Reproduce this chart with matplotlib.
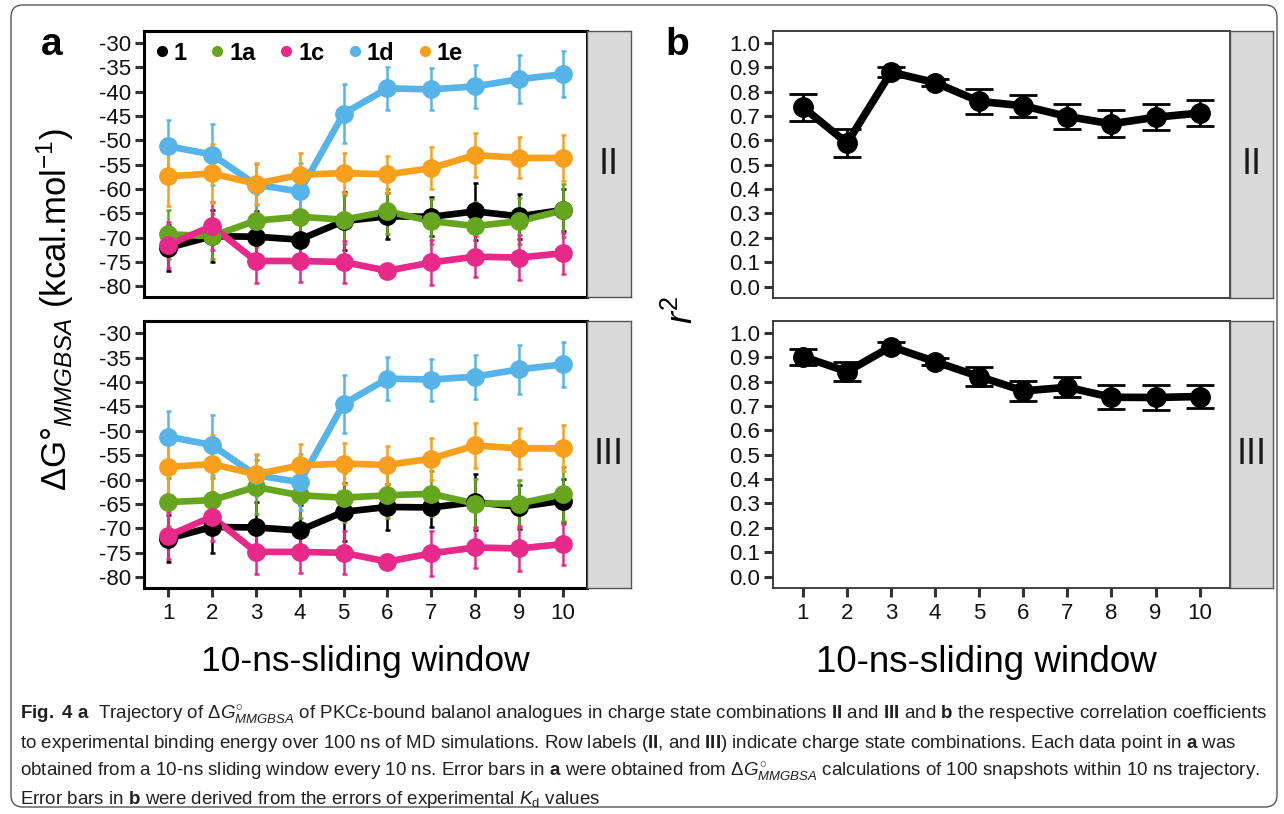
import matplotlib
matplotlib.use("Agg")
import matplotlib.pyplot as plt
from matplotlib.lines import Line2D
from matplotlib.patches import FancyBboxPatch
from matplotlib import font_manager
import numpy as np

plt.rcParams['font.family'] = ['Liberation Sans', 'DejaVu Sans']
plt.rcParams['mathtext.fontset'] = 'custom'
plt.rcParams['mathtext.rm'] = 'Liberation Sans'
plt.rcParams['mathtext.it'] = 'Liberation Sans:italic'
plt.rcParams['mathtext.bf'] = 'Liberation Sans:bold'
plt.rcParams['axes.unicode_minus'] = False

# ---- data ----
windows = np.arange(1, 11)
compounds = ['1', '1a', '1c', '1d', '1e']
colors = ['#000000', '#66A61E', '#E7298A', '#56B4E9', '#F8A01C']
rows = ['II', 'III']

# panel a: dG MMGBSA (kcal/mol), same for both rows except 1a
dg_1 = [-72.1, -69.7, -69.8, -70.4, -66.6, -65.6, -65.7, -64.6, -65.6, -64.3]
err_1 = [4.8, 5.4, 5.2, 5.2, 5.9, 4.7, 4.0, 5.8, 4.6, 4.4]
dg_1a_II = [-69.3, -69.7, -66.5, -65.7, -66.3, -64.6, -66.6, -67.6, -66.6, -64.4]
dg_1a_III = [-64.6, -64.2, -61.5, -63.2, -63.7, -63.2, -62.9, -64.9, -64.9, -63.0]
err_1a = [5.0, 4.6, 5.5, 4.7, 5.0, 4.7, 4.6, 5.0, 4.8, 5.5]
dg_1c = [-71.5, -67.6, -74.8, -74.8, -75.0, -76.8, -75.1, -73.9, -74.1, -73.2]
err_1c = [4.8, 5.0, 4.5, 4.3, 4.4, 0.8, 4.6, 4.2, 4.6, 4.2]
dg_1d = [-51.2, -52.9, -59.1, -60.5, -44.5, -39.3, -39.5, -38.9, -37.4, -36.4]
err_1d = [5.3, 6.2, 4.2, 5.8, 6.0, 4.4, 4.3, 4.5, 5.0, 4.7]
dg_1e = [-57.4, -56.8, -58.9, -57.1, -56.7, -57.0, -55.7, -53.0, -53.6, -53.6]
err_1e = [6.0, 6.0, 4.2, 4.5, 4.2, 3.8, 4.3, 4.6, 4.2, 4.7]

# panel b: r^2
r2_II = [0.736, 0.589, 0.880, 0.837, 0.760, 0.742, 0.698, 0.668, 0.695, 0.712]
r2err_II = [0.055, 0.058, 0.020, 0.013, 0.050, 0.045, 0.052, 0.056, 0.054, 0.052]
r2_III = [0.903, 0.841, 0.944, 0.882, 0.821, 0.762, 0.777, 0.736, 0.735, 0.739]
r2err_III = [0.033, 0.039, 0.020, 0.014, 0.040, 0.040, 0.042, 0.050, 0.051, 0.049]

a_yticks = np.arange(-80, -25, 5)
b_yticks = np.round(np.arange(0, 1.01, 0.1), 1)

series_II = [(dg_1, err_1), (dg_1a_II, err_1a), (dg_1c, err_1c), (dg_1d, err_1d), (dg_1e, err_1e)]
series_III = [(dg_1, err_1), (dg_1a_III, err_1a), (dg_1c, err_1c), (dg_1d, err_1d), (dg_1e, err_1e)]

W, H = 1284, 814
fig = plt.figure(figsize=(W / 100, H / 100), dpi=100)


def box(x0, y0, x1, y1):
    return [x0 / W, 1 - y1 / H, (x1 - x0) / W, (y1 - y0) / H]


def strip(x0, y0, x1, y1, label):
    s = fig.add_axes(box(x0, y0, x1, y1))
    s.set_facecolor('#D9D9D9')
    s.set_xticks([])
    s.set_yticks([])
    for sp in s.spines.values():
        sp.set_color('#555555')
        sp.set_linewidth(1.0)
    s.text(0.5, 0.5, label, ha='center', va='center', fontsize=26, color='#1a1a1a',
           transform=s.transAxes)


def style(ax, lw, col, bottom):
    for sp in ax.spines.values():
        sp.set_linewidth(lw)
        sp.set_color(col)
    ax.tick_params(axis='both', length=6.5, width=2.2, color='#333333',
                   labelsize=16, labelcolor='#111111', pad=3)
    ax.tick_params(axis='x', pad=4)
    ax.set_xticks(windows)
    if not bottom:
        ax.tick_params(axis='x', bottom=False, labelbottom=False)


# ---- panel a ----
a_rows = [(31, 297), (321, 588)]
for r, (y0, y1) in enumerate(a_rows):
    ax = fig.add_axes(box(144, y0, 587, y1))
    data = series_II if r == 0 else series_III
    for (vals, errs), c in zip(data, colors):
        ax.errorbar(windows, vals, yerr=errs, fmt='none', ecolor=c, elinewidth=1.8,
                    capsize=1.8, capthick=1.8, zorder=2)
    for (vals, errs), c in zip(data, colors):
        ax.plot(windows, vals, color=c, lw=4.8, zorder=3, solid_capstyle='round')
    for (vals, errs), c in zip(data, colors):
        ax.plot(windows, vals, 'o', color=c, ms=12.5, zorder=4)
    ax.set_xlim(0.45, 10.55)
    ax.set_ylim(-82.2, -27.5)
    ax.set_yticks(a_yticks)
    style(ax, 2.2, '#000000', r == 1)
    if r == 0:
        handles = [Line2D([], [], marker='o', ls='none', color=c, ms=7) for c in colors]
        ax.legend(handles, compounds, loc='upper left', bbox_to_anchor=(0.0, 1.0), ncol=5,
                  frameon=False, handlelength=0.6, handletextpad=0.2, columnspacing=1.0,
                  borderaxespad=0.25, borderpad=0.2, prop=dict(weight='bold', size=17))
    strip(587, y0, 631, y1, rows[r])

# ---- panel b ----
b_rows = [(31, 298), (321, 588)]
b_data = [(r2_II, r2err_II), (r2_III, r2err_III)]
for r, (y0, y1) in enumerate(b_rows):
    ax = fig.add_axes(box(773, y0, 1230, y1))
    vals, errs = b_data[r]
    ax.errorbar(windows, vals, yerr=errs, fmt='none', ecolor='black', elinewidth=2,
                capsize=10, capthick=2, zorder=2)
    ax.plot(windows, vals, color='black', lw=5.5, zorder=3)
    ax.plot(windows, vals, 'o', color='black', ms=14, zorder=4)
    ax.set_xlim(0.32, 10.69)
    ax.set_ylim(-0.047, 1.049)
    ax.set_yticks(b_yticks)
    ax.set_yticklabels(['%.1f' % v for v in b_yticks])
    style(ax, 1.3, '#333333', r == 1)
    strip(1230, y0, 1273, y1, rows[r])

# ---- labels ----
fig.text(52 / W, 1 - 45 / H, 'a', fontsize=28, weight='bold', ha='center', va='center')
fig.text(677 / W, 1 - 45 / H, 'b', fontsize=28, weight='bold', ha='center', va='center')
fig.text(55 / W, 1 - 310 / H, r'$\Delta\mathrm{G°}_{\mathit{MMGBSA}}$ (kcal.mol$^{-1}$)',
         rotation=90, fontsize=25, ha='center', va='center')
fig.text(683 / W, 1 - 310 / H, r'$\mathit{r}^{2}$', rotation=90, fontsize=26,
         ha='center', va='center')
fig.text(365 / W, 1 - 662 / H, '10-ns-sliding window', fontsize=25.5, ha='center', va='center')
fig.text(986 / W, 1 - 662 / H, '10-ns-sliding window', fontsize=26.5, ha='center', va='center')

# ---- caption ----
names = {f.name for f in font_manager.fontManager.ttflist}
cap_font = 'Liberation Sans Narrow' if 'Liberation Sans Narrow' in names else 'Liberation Sans'
cap_lines = [
    r'$\mathbf{Fig.\ 4\ a}$  Trajectory of $\mathit{\Delta G^{\circ}_{MMGBSA}}$ of PKCε-bound balanol '
    r'analogues in charge state combinations $\mathbf{II}$ and $\mathbf{III}$ and $\mathbf{b}$ the '
    r'respective correlation coefficients',
    r'to experimental binding energy over 100 ns of MD simulations. Row labels ($\mathbf{II}$, and '
    r'$\mathbf{III}$) indicate charge state combinations. Each data point in $\mathbf{a}$ was',
    r'obtained from a 10-ns sliding window every 10 ns. Error bars in $\mathbf{a}$ were obtained '
    r'from $\mathit{\Delta G^{\circ}_{MMGBSA}}$ calculations of 100 snapshots within 10 ns trajectory.',
    r'Error bars in $\mathbf{b}$ were derived from the errors of experimental $\mathit{K}_{\mathrm{d}}$ values',
]
cap_y = [715, 744, 772, 799]
texts = [fig.text(20 / W, 1 - y / H, s, fontsize=12, family=cap_font, va='center',
                  color='#231f20') for s, y in zip(cap_lines, cap_y)]
renderer = fig.canvas.get_renderer()
w0 = texts[0].get_window_extent(renderer).width
fs = 12 * 1248 / w0
for t in texts:
    t.set_fontsize(fs)

frame = FancyBboxPatch((0.11, 0.07), 12.66, 8.02, boxstyle='round,pad=0,rounding_size=0.12',
                       transform=fig.dpi_scale_trans, facecolor='none', edgecolor='#555555',
                       lw=1.0)
fig.patches.append(frame)

fig.savefig('out.png', dpi=100)
